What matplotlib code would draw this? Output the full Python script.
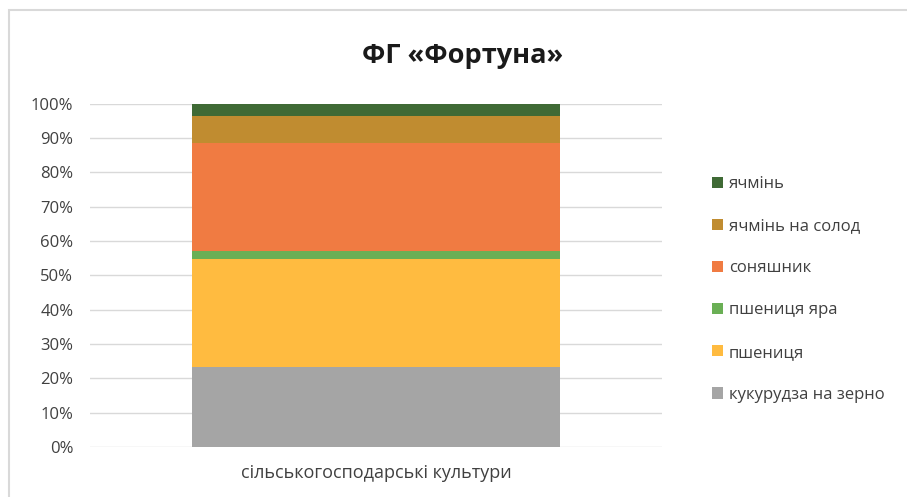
import matplotlib.pyplot as plt
from matplotlib.patches import Rectangle
from matplotlib.ticker import PercentFormatter

plt.rcParams["font.family"] = ["Open Sans", "DejaVu Sans"]

category = ["сільськогосподарські культури"]
crops = ["кукурудза на зерно", "пшениця", "пшениця яра", "соняшник", "ячмінь на солод", "ячмінь"]
shares = [23.4, 31.2, 2.6, 31.3, 7.9, 3.6]
colors = ["#a5a5a5", "#ffbb40", "#6aaf55", "#f07b42", "#c08c30", "#3f6a35"]
y_ticks = list(range(0, 101, 10))

W, H = 907, 497
fig = plt.figure(figsize=(W / 100, H / 100), dpi=100)
ax = fig.add_axes([90 / W, 50 / H, 572 / W, 343.5 / H])

# outer chart frame (only top/left visible in the reference)
fig.patches.append(Rectangle((9 / W, -0.05), 1.2, (H - 10) / H + 0.05, transform=fig.transFigure,
                             fill=False, edgecolor="#d9d9d9", linewidth=1.5))

bottom = 0
handles = []
for crop, share, color in zip(crops, shares, colors):
    b = ax.bar(category, share, bottom=bottom, width=0.645, color=color, label=crop, zorder=3)
    handles.append(b)
    bottom += share

ax.set_xlim(-0.5, 0.5)
ax.set_ylim(0, 100)
ax.set_yticks(y_ticks)
ax.yaxis.set_major_formatter(PercentFormatter(decimals=0))
ax.grid(axis="y", color="#d9d9d9", linewidth=1, zorder=0)
for side in ["top", "right", "left", "bottom"]:
    ax.spines[side].set_visible(False)
ax.tick_params(axis="both", length=0, labelsize=12, colors="#404040")
ax.tick_params(axis="y", pad=12)
ax.tick_params(axis="x", pad=12)
for lbl in ax.get_xticklabels():
    lbl.set_fontsize(13)

fig.text(463 / W, 1 - 56 / H, "ФГ «Фортуна»", ha="center", va="center",
         fontsize=19.5, fontweight="bold", color="#1a1a1a")

leg = fig.legend(handles[::-1], crops[::-1], loc="upper left", bbox_to_anchor=(697 / W, 1 - 161 / H),
                 frameon=False, fontsize=12, labelcolor="#404040", handlelength=0.65, handleheight=0.65,
                 handletextpad=0.35, labelspacing=1.57)

fig.savefig("out.png", dpi=100)
